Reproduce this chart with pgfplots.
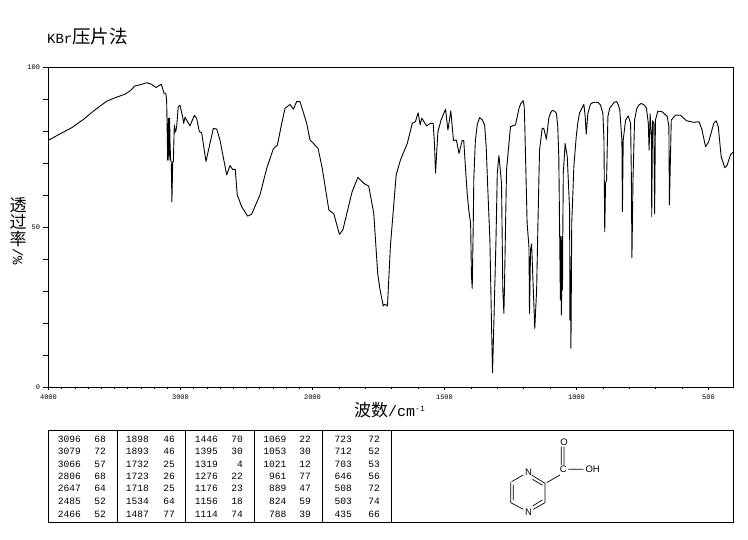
\documentclass[border=0pt]{standalone}
\usepackage{fontspec}
\usepackage{pgfplots}
\pgfplotsset{compat=1.18}
\setmainfont{Liberation Mono}
\newfontfamily\mono{Liberation Mono}
\newfontfamily\sans{Liberation Sans}
\newfontfamily\cjk{Noto Sans CJK SC}
\newcommand\fs[1]{\fontsize{#1}{#1}\selectfont}
\begin{document}
\begin{tikzpicture}[x=1pt,y=1pt]
\useasboundingbox (0,0) rectangle (748,539);
\begin{axis}[
  at={(48.5pt,152pt)},anchor=south west,scale only axis,
  width=684.8pt,height=320pt,
  xmin=0,xmax=5188,ymin=0,ymax=100,
  axis line style={line width=0.9pt},
  tick style={black,line width=0.7pt},
  xtick pos=bottom,ytick pos=left,tick align=outside,
  major tick length=5pt,minor tick length=2pt,
  xtick style={/pgfplots/major tick length=3pt},
  xtick={0,1000,2000,3000,4000,5000},
  xticklabels={4000,3000,2000,1500,1000,500},
  minor xtick={100,200,300,400,500,600,700,800,900,1100,1200,1300,1400,1500,1600,1700,1800,1900,2200,2400,2600,2800,3200,3400,3600,3800,4200,4400,4600,4800},
  ytick={0,10,20,30,40,50,60,70,80,90,100},
  yticklabels={0,,,,,50,,,,,100},
  tick label style={font=\mono\fs{7}},
  xticklabel style={yshift=1pt},
  /pgf/number format/assume math mode=true,
  clip=true,
]
\addplot[black,line width=0.9pt,line join=round,
  x filter/.expression={x>=2000 ? 4000-x : 6000-2*x}] table {
4000 77.1
3913 79.1
3825 81.0
3736 83.6
3648 86.6
3559 89.3
3496 90.4
3420 91.5
3380 92.6
3345 94.1
3300 94.5
3256 95.1
3220 94.6
3186 93.6
3145 94.6
3125 91.8
3112 91.8
3105 89.7
3097 70.9
3092 84
3087 70.9
3082 84
3080 77.2
3075 70.9
3070 70.4
3065 57.9
3059 70.4
3054 70.4
3047 81.8
3037 79.6
3029 81.4
3017 87.6
3004 88
2984 84.5
2976 82.4
2966 84.3
2928 81.6
2895 84.9
2878 84
2857 79.8
2840 79.5
2807 70.5
2777 76.1
2751 80.8
2726 80.6
2701 77.2
2650 66.3
2625 69.2
2605 68
2585 68
2570 60
2537 56.4
2491 53.4
2461 54
2436 56.4
2398 60
2347 68.3
2297 74.4
2266 75.6
2233 82.4
2208 87.1
2170 88.3
2145 86.8
2120 89.2
2095 89.2
2044 82.4
2019 77.2
1979 74.6
1963 68.3
1938 55.3
1919 54.1
1898 47.7
1885 49.1
1850 61
1828 65.5
1802 63.4
1787 62.8
1768 54.3
1753 35.5
1745 30.8
1732 25.3
1726 25.9
1716 25.3
1705 43.9
1683 66.3
1667 70.9
1641 76.1
1622 82.4
1610 82.9
1600 85.7
1592 81.9
1586 84
1568 81.6
1553 82.4
1543 82.4
1538 76.1
1534 66.8
1525 79.8
1513 83.4
1496 86.8
1487 80.3
1476 86.3
1466 77
1455 77.2
1445 73
1433 77
1427 77
1420 67.8
1414 60.5
1408 55.3
1401 51.1
1398 35
1395 30.8
1391 51
1389 65
1383 77
1376 82
1367 84.2
1357 83.5
1348 81.9
1342 75
1336 62
1328 45.9
1322 19.9
1318 4.5
1313 19.9
1305 45.9
1300 66.8
1294 72.3
1292 70.9
1284 63.6
1279 30.3
1275 23
1273 30.3
1265 67.8
1250 81.4
1231 81.9
1218 87
1212 88.4
1202 89.5
1198 87.6
1196 82.4
1187 51.1
1180 43.8
1178 23
1174 42.8
1170 44.7
1164 31.3
1158 18.3
1151 30.3
1146 51.1
1140 74
1130 80.8
1124 80.8
1114 77.4
1105 84
1098 85.7
1092 86.4
1083 86.2
1076 85.5
1071 81.4
1067 72
1061 27.2
1059 47
1057 22.5
1054 47
1053 30.3
1052 47
1050 66.8
1043 76.1
1035 72
1026 55.3
1025 20.9
1024 40.7
1021 12.1
1018 51.1
1010 68.9
1001 78.2
995 82.5
989 85.5
972 88.3
967 84.5
963 79
957 85.5
947 88.4
937 88.9
928 89
918 88.9
909 88.1
900 85.5
896 77.2
893 48.5
890 63.6
886 64.7
881 84.5
874 87.2
865 88.1
857 89
848 89.2
842 88.3
836 86.6
828 77.2
826 54.8
823 77.2
814 83.4
804 84.7
795 82.4
792 64.7
790 40.4
788 52.2
786 64.7
780 83.4
772 86.9
764 88.1
755 88.6
747 88.3
741 87.9
735 87.1
728 82.4
725 74
721 85.3
716 77.2
715 53.2
712 83.2
707 82.4
704 54.2
701 83.4
692 86.2
675 86
656 84.5
650 81.4
648 56.9
645 68.3
641 83.4
625 85
606 84.9
583 83.2
555 82.7
536 82.9
526 80.8
511 75.1
499 76.7
480 82.4
471 83.2
463 81.4
452 72
438 68.5
429 69.4
417 72.5
406 73.5
};
\end{axis}
% title and axis names
\node[anchor=base west,inner sep=0pt] at (47,495.5) {\mono\fs{14}KBr\cjk\fs{18.5}压片法};
\node[inner sep=0pt] at (18,334) {\cjk\fs{17}透};
\node[inner sep=0pt] at (18,317) {\cjk\fs{17}过};
\node[inner sep=0pt] at (18,300) {\cjk\fs{17}率};
\node[inner sep=0pt,rotate=-90] at (18,282) {\mono\fs{14}/\%};
\node[anchor=base west,inner sep=0pt] at (354,122) {\cjk\fs{17}波数\mono\fs{15}/cm\raisebox{5pt}{\fs{8}-1}};
% peak table
\draw[line width=0.9pt] (48.5,109) rectangle (733,17);
\foreach \x in {117.5,185,254,322,391} \draw[line width=0.9pt] (\x,109) -- (\x,17);
\newcommand\row[3]{\node[anchor=base east,inner sep=0pt] at (#1,#3) {\mono\fs{9.6}#2};}
\foreach \y/\a/\b/\c/\d/\e/\f/\g/\h/\i/\j in {
96.5/3096/68/1898/46/1446/70/1069/22/723/72,
84.2/3079/72/1893/46/1395/30/1053/30/712/52,
71.5/3066/57/1732/25/1319/4/1021/12/703/53,
59.5/2806/68/1723/26/1276/22/961/77/646/56,
47.2/2647/64/1718/25/1176/23/889/47/508/72,
34.5/2485/52/1534/64/1156/18/824/59/503/74,
21.5/2466/52/1487/77/1114/74/788/39/435/66}{
  \row{81}{\a}{\y}\row{106}{\b}{\y}
  \row{149}{\c}{\y}\row{175}{\d}{\y}
  \row{218}{\e}{\y}\row{243}{\f}{\y}
  \row{286.7}{\g}{\y}\row{311}{\h}{\y}
  \row{352}{\i}{\y}\row{380}{\j}{\y}
}
% structure
\begin{scope}[shift={(390,119)},x=0.3333pt,y=-0.3333pt,line width=0.7pt]
\draw (365,185)--(400,165) (425,165)--(465,190) (428,178)--(458,196)
      (465,190)--(465,248) (465,248)--(430,268) (457,240)--(428,258)
      (400,268)--(362,248) (362,248)--(362,187) (370,240)--(370,195)
      (470,188)--(510,165) (514,135)--(514,80) (522,135)--(522,80)
      (535,148)--(580,148);
\node[inner sep=0pt] at (416,158) {\sans\fs{9.5}N};
\node[inner sep=0pt] at (416,278) {\sans\fs{9.5}N};
\node[inner sep=0pt] at (520,148) {\sans\fs{9.5}C};
\node[inner sep=0pt] at (522,67) {\sans\fs{9.5}O};
\node[inner sep=0pt] at (608,148) {\sans\fs{9.5}OH};
\end{scope}
\end{tikzpicture}
\end{document}
